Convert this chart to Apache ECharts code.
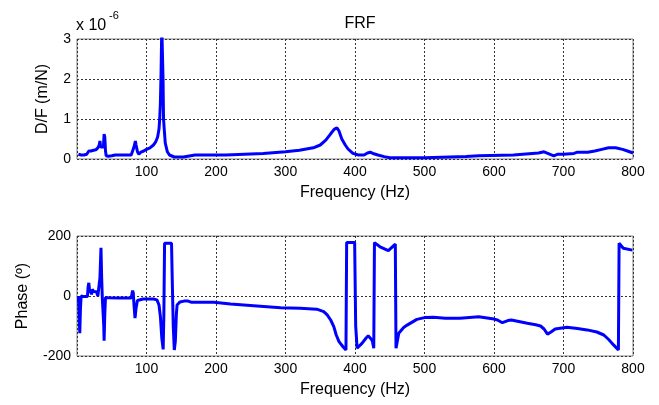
<!DOCTYPE html>
<html>
<head>
<meta charset="utf-8">
<script src="https://cdn.jsdelivr.net/npm/echarts@6/dist/echarts.min.js"></script>
<style>html,body{margin:0;padding:0;background:#fff}#c{width:659px;height:405px}</style>
</head>
<body>
<div id="c"></div>
<script>
// Magnitude (D/F, in units of 1e-6 m/N)
var magFreq = [2,4,6,10,14,16,17,20,22,24,27,30,32,33,34,36,38,39,40,41,42,45,50,55,60,70,78,80,82,84,85,87,89,92,96,100,105,110,113,116,118,119,120,121,122,123,123.8,124.5,125.5,127,130,133,135,140,153,155,170,214,216,268,270,300,320,340,350,358,365,370,374,377,381,386,390,397,405,413,418,422,427,433,442,450,500,502,560,578,580,628,630,664,672,680,686,692,700,715,720,735,745,755,765,775,785,792,800];
var magVal  = [0.12,0.14,0.1,0.1,0.12,0.1,0.2,0.2,0.18,0.22,0.23,0.28,0.35,0.45,0.3,0.25,0.3,0.62,0.55,0.2,0.08,0.07,0.08,0.1,0.1,0.1,0.1,0.14,0.3,0.45,0.35,0.18,0.12,0.17,0.2,0.24,0.28,0.35,0.42,0.55,0.75,1.0,1.4,2.2,3.3,3.3,2.0,1.0,0.75,0.4,0.18,0.1,0.06,0.05,0.05,0.09,0.1,0.1,0.13,0.14,0.17,0.18,0.22,0.28,0.35,0.47,0.63,0.74,0.78,0.7,0.5,0.35,0.25,0.14,0.1,0.1,0.15,0.17,0.13,0.1,0.06,0.03,0.03,0.06,0.06,0.08,0.1,0.1,0.14,0.15,0.18,0.12,0.08,0.12,0.12,0.14,0.17,0.17,0.2,0.24,0.28,0.28,0.24,0.2,0.15];
// Phase (degrees)
var phFreq = [2,3,4,5,6,10,15,16,17,18,19,20,21,22,24,26,28,30,32,33,34.5,35.5,36.5,37.5,38.5,39,40,41,45,60,78,80,81,82,83.5,85,87,89,95,110,115,118,120,122,124,125,126,136,137,138.5,140,141.5,143,144,148,154,160,165,197,221,259,293,321,345,355,360,365,369.5,373,377,383,387,388,399.5,401,403,410,416,419,422,425,427,428,436,448,458,459,463,470,475,489,500,513,530,551,578,600,605,612,620,625,648,660,667,672,677,682,688,705,720,734,748,758,765,772,779,780,786,799,800];
var phVal  = [0,-60,-124,-40,0,-2,-2,30,44,20,10,20,5,22,15,10,14,0,-3,60,161,60,-10,-13,-100,-149,-60,-5,-6,-7,-7,18,10,-30,-74,-40,-15,-13,-10,-10,-13,-30,-69,-140,-178,-60,176,176,60,-100,-180,-150,-60,-30,-20,-17,-17,-21,-21,-27,-33,-39,-41,-44,-52,-63,-80,-102,-130,-152,-170,-180,178,178,-100,-174,-158,-140,-133,-140,-150,-174,178,164,151,173,-174,-124,-105,-97,-78,-72,-71,-74,-74,-69,-77,-80,-89,-82,-80,-91,-96,-100,-110,-127,-120,-110,-104,-108,-113,-120,-130,-145,-163,-180,176,159,153,153];
var xTicksInterval = 100;
var magTicks = [0,1,2,3];
var phTicks = [-200,0,200];

function pairs(xs, ys){ return xs.map(function(x,i){ return [x, ys[i]]; }); }

var font = 'Liberation Sans, Arial, sans-serif';
var gridLine = {show:true, lineStyle:{color:'#333', type:[2,2], width:1}};
function xAx(idx){
  return {gridIndex:idx, type:'value', min:0, max:800, interval:xTicksInterval, name:'Frequency (Hz)', nameLocation:'middle', nameGap:26,
     nameTextStyle:{fontFamily:font, fontSize:16, color:'#000'},
     axisLine:{show:false}, axisTick:{show:false}, splitLine:gridLine,
     axisLabel:{showMinLabel:false, margin:6, fontFamily:font, fontSize:14, color:'#000'}};
}
var chart = echarts.init(document.getElementById('c'), null, {renderer:'canvas'});
chart.setOption({
  backgroundColor:'#fff',
  animation:false,
  title:{text:'FRF', left:355, top:11, textAlign:'center', textStyle:{fontFamily:font, fontSize:16, fontWeight:'normal', color:'#000'}},
  graphic:[
    {type:'text', left:76, top:18, style:{text:'x 10', font:'16px ' + font, fill:'#000'}},
    {type:'text', left:109, top:10, style:{text:'-6', font:'11px ' + font, fill:'#000'}}
  ],
  grid:[
    {left:77, right:26, top:39, height:120, show:true, borderColor:'#808080', borderWidth:1, backgroundColor:'#fff'},
    {left:77, right:26, top:236, height:120, show:true, borderColor:'#808080', borderWidth:1, backgroundColor:'#fff'}
  ],
  xAxis:[xAx(0), xAx(1)],
  yAxis:[
    {gridIndex:0, type:'value', min:magTicks[0], max:magTicks[magTicks.length-1], interval:1, name:'D/F (m/N)', nameLocation:'middle', nameGap:26,
     nameTextStyle:{fontFamily:font, fontSize:16, color:'#000'},
     axisLine:{show:false}, axisTick:{show:false}, splitLine:gridLine,
     axisLabel:{margin:6, fontFamily:font, fontSize:14, color:'#000'}},
    {gridIndex:1, type:'value', min:phTicks[0], max:phTicks[phTicks.length-1], interval:200, name:'Phase (º)', nameLocation:'middle', nameGap:46,
     nameTextStyle:{fontFamily:font, fontSize:16, color:'#000'},
     axisLine:{show:false}, axisTick:{show:false}, splitLine:gridLine,
     axisLabel:{margin:6, fontFamily:font, fontSize:14, color:'#000'}}
  ],
  series:[
    {type:'line', xAxisIndex:0, yAxisIndex:0, data:pairs(magFreq, magVal), showSymbol:false, clip:true,
     lineStyle:{color:'#0000ff', width:3}},
    {type:'line', xAxisIndex:1, yAxisIndex:1, data:pairs(phFreq, phVal), showSymbol:false, clip:true,
     lineStyle:{color:'#0000ff', width:3}}
  ]
});
</script>
</body>
</html>
